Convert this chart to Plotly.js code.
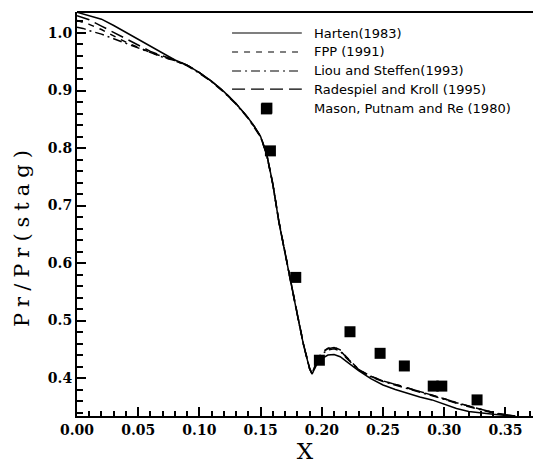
<!DOCTYPE html>
<html>
<head>
<meta charset="utf-8">
<script src="https://cdn.plot.ly/plotly-3.0.1.min.js"></script>
<style>
  html, body { margin: 0; padding: 0; background: #fff; }
  #chart { width: 534px; height: 466px; }
</style>
</head>
<body>
<div id="chart"></div>
<script>
// Surface pressure ratio along the body, four numerical schemes vs. experiment
var xGrid = [0, 0.005, 0.01, 0.02, 0.03, 0.04, 0.05, 0.06, 0.07, 0.08, 0.09, 0.10, 0.11, 0.12, 0.13, 0.14, 0.145, 0.15, 0.155, 0.16, 0.165, 0.17, 0.175, 0.18, 0.185, 0.19, 0.192, 0.196, 0.20, 0.205, 0.21, 0.215, 0.22, 0.23, 0.24, 0.25, 0.26, 0.27, 0.28, 0.29, 0.30, 0.31, 0.32, 0.33, 0.34, 0.35, 0.358];

var hartenY = [1.036, 1.033, 1.031, 1.024, 1.013, 1.001, 0.989, 0.977, 0.965, 0.953, 0.944, 0.931, 0.916, 0.898, 0.877, 0.852, 0.837, 0.820, 0.789, 0.737, 0.670, 0.615, 0.562, 0.510, 0.458, 0.416, 0.407, 0.424, 0.434, 0.440, 0.441, 0.437, 0.429, 0.413, 0.399, 0.388, 0.380, 0.373, 0.367, 0.362, 0.355, 0.347, 0.342, 0.339, 0.337, 0.335, 0.334];

var fppY = [1.022, 1.019, 1.015, 1.006, 0.995, 0.984, 0.975, 0.966, 0.959, 0.952, 0.944, 0.931, 0.916, 0.898, 0.877, 0.852, 0.837, 0.820, 0.789, 0.737, 0.672, 0.616, 0.563, 0.511, 0.459, 0.417, 0.408, 0.430, 0.445, 0.452, 0.454, 0.449, 0.437, 0.415, 0.403, 0.395, 0.389, 0.383, 0.377, 0.371, 0.364, 0.357, 0.351, 0.345, 0.340, 0.336, 0.334];

var liouY = [1.010, 1.008, 1.004, 0.998, 0.990, 0.982, 0.974, 0.966, 0.958, 0.952, 0.943, 0.930, 0.915, 0.897, 0.876, 0.851, 0.836, 0.819, 0.788, 0.736, 0.671, 0.615, 0.562, 0.510, 0.458, 0.416, 0.407, 0.428, 0.442, 0.449, 0.451, 0.447, 0.435, 0.414, 0.402, 0.394, 0.388, 0.382, 0.376, 0.370, 0.363, 0.356, 0.350, 0.344, 0.339, 0.336, 0.334];

var radespielY = [1.030, 1.027, 1.023, 1.012, 1.001, 0.990, 0.979, 0.968, 0.960, 0.953, 0.944, 0.931, 0.916, 0.898, 0.877, 0.852, 0.837, 0.820, 0.789, 0.737, 0.671, 0.616, 0.563, 0.511, 0.459, 0.417, 0.408, 0.429, 0.444, 0.451, 0.453, 0.448, 0.436, 0.415, 0.403, 0.395, 0.389, 0.383, 0.377, 0.371, 0.364, 0.357, 0.351, 0.345, 0.340, 0.336, 0.334];

// Experimental points
var masonX = [0.1547, 0.158, 0.1787, 0.198, 0.223, 0.2476, 0.2674, 0.291, 0.298, 0.3268];
var masonY = [0.868, 0.795, 0.575, 0.431, 0.4805, 0.443, 0.421, 0.386, 0.386, 0.362];

var seriesNames = ['Harten(1983)', 'FPP (1991)', 'Liou and Steffen(1993)', 'Radespiel and Kroll (1995)', 'Mason, Putnam and Re (1980)'];
var dashes = ['solid', '6px,6px', '9px,4px,2px,4px', '13px,6px'];

var curves = [hartenY, fppY, liouY, radespielY];
var traces = curves.map(function (ys, i) {
  return {
    x: xGrid, y: ys, type: 'scatter', mode: 'lines',
    name: seriesNames[i],
    line: { color: '#000', width: 1.5, dash: dashes[i] },
    showlegend: false, hoverinfo: 'skip'
  };
});
traces.push({
  x: masonX, y: masonY, type: 'scatter', mode: 'markers',
  name: seriesNames[4],
  marker: { symbol: 'square', size: 11, color: '#000' },
  showlegend: false
});

// Key drawn in the upper right of the plot area
var keyRowsY = [0.948, 0.901, 0.854, 0.809, 0.762];
var shapes = [
  { type: 'line', xref: 'paper', yref: 'paper', x0: 0, x1: 1, y0: 1, y1: 1,
    line: { color: '#000', width: 2 } }
];
var annotations = [];
for (var i = 0; i < 4; i++) {
  shapes.push({ type: 'line', xref: 'paper', yref: 'paper', x0: 0.340, x1: 0.493,
    y0: keyRowsY[i], y1: keyRowsY[i], line: { color: '#000', width: 1.2, dash: dashes[i] } });
}
shapes.push({ type: 'rect', xref: 'paper', yref: 'paper', x0: 0.4045, x1: 0.4285,
  y0: keyRowsY[4] - 0.0136, y1: keyRowsY[4] + 0.0136, fillcolor: '#000', line: { width: 0 } });
for (var j = 0; j < 5; j++) {
  annotations.push({ xref: 'paper', yref: 'paper', x: 0.516, y: keyRowsY[j],
    xanchor: 'left', yanchor: 'middle', showarrow: false, text: seriesNames[j],
    font: { family: 'DejaVu Sans', size: 13, color: '#000' } });
}
annotations.push({ xref: 'paper', yref: 'paper', x: -0.1206, y: 0.4455,
  xanchor: 'center', yanchor: 'middle', showarrow: false, textangle: -90,
  text: '<span style="letter-spacing:6px">Pr/Pr(stag)</span>',
  font: { family: 'DejaVu Serif', size: 21, color: '#000' } });

var tickFont = { family: 'DejaVu Serif', size: 14, weight: 700, color: '#000' };

var layout = {
  width: 534, height: 466,
  margin: { l: 77, r: 1, t: 12, b: 50 },
  paper_bgcolor: '#fff', plot_bgcolor: '#fff',
  showlegend: false,
  xaxis: {
    range: [0, 0.3725], tick0: 0, dtick: 0.05, tickformat: '.2f',
    tickprefix: '<b>', ticksuffix: '</b>',
    ticks: 'inside', ticklen: 9, tickwidth: 2, tickcolor: '#000',
    minor: { dtick: 0.01, ticks: 'inside', ticklen: 5, tickwidth: 2, tickcolor: '#000', showgrid: false },
    showline: true, linewidth: 2, linecolor: '#000', mirror: false,
    showgrid: false, zeroline: false, tickfont: tickFont,
    title: { text: 'X', font: { family: 'DejaVu Serif', size: 23, color: '#000' }, standoff: 6 }
  },
  yaxis: {
    range: [0.334, 1.0365], tick0: 0, dtick: 0.1, tickformat: '.1f',
    tickprefix: '<b>', ticksuffix: '</b>',
    ticks: 'inside', ticklen: 9, tickwidth: 2, tickcolor: '#000',
    minor: { dtick: 0.02, ticks: 'inside', ticklen: 6, tickwidth: 2, tickcolor: '#000', showgrid: false },
    showline: true, linewidth: 2, linecolor: '#000', mirror: false,
    showgrid: false, zeroline: false, tickfont: tickFont
  },
  shapes: shapes,
  annotations: annotations
};

Plotly.newPlot('chart', traces, layout, { staticPlot: true, displayModeBar: false });
</script>
</body>
</html>
